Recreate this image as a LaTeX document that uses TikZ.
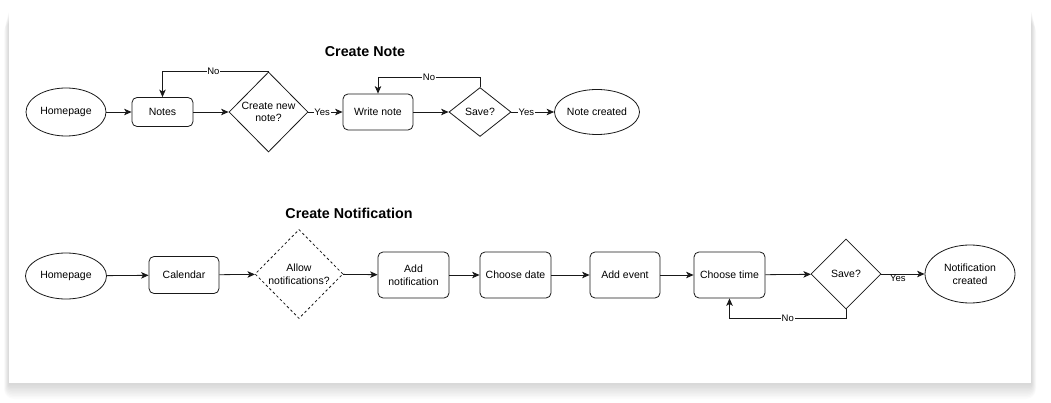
\documentclass[tikz,border=0pt]{standalone}
\usepackage{fontspec}
\setmainfont{Liberation Sans}
\usetikzlibrary{shapes.geometric,arrows.meta}
\begin{document}
\begin{tikzpicture}[x=1pt,y=-1pt,
  every node/.style={font=\fontsize{10.5}{12.5}\selectfont, align=center, inner sep=0pt},
  line/.style={line width=0.8pt, draw=black!90},
  arr/.style={line, -{Stealth[length=7.5pt,width=6.5pt,inset=2pt]}},
  proc/.style={line, rectangle, rounded corners=5pt, minimum width=71pt, minimum height=#1},
  proc/.default=46pt,
  term/.style={line, ellipse, minimum width=80pt, minimum height=#1},
  term/.default=48pt,
  dec/.style={line, diamond, minimum width=#1, minimum height=#1},
  elabel/.style={fill=white, font=\fontsize{9.5}{10.5}\selectfont, inner sep=0.8pt},
  title/.style={font=\fontsize{14.3}{16}\selectfont\bfseries}
]
\useasboundingbox (0,0) rectangle (1051,403);
% card shadow
\foreach \i in {1,...,10}{
  \fill[black, opacity=0.016, rounded corners=\i pt] (9-0.5*\i, 10+1.2*\i) rectangle (1031+0.5*\i, 383+1.6*\i);
}
\fill[white] (9,10) rectangle (1031,383);

% ---------- Create Note ----------
\node[title] (t1) at (365,52) {Create Note};
\node[term] (h1) at (66,112) {Homepage};
\node[proc=29pt, minimum width=61pt] (notes) at (162.5,112) {Notes};
\node[dec=80pt, minimum width=79pt, minimum height=80pt] (d1) at (268.5,112) {Create new\\note?};
\node[proc=36pt, minimum width=70pt] (wn) at (378,112) {Write note};
\node[line, diamond, minimum width=62pt, minimum height=49pt] (s1) at (480,112) {Save?};
\node[term=45pt] (nc) at (597,112) {Note created};

\draw[arr] (h1) -- (notes);
\draw[arr] (notes) -- (d1);
\draw[arr] (d1) -- node[elabel, pos=0.4] {Yes} (wn);
\draw[arr] (wn) -- (s1);
\draw[arr] (s1) -- node[elabel, pos=0.35] {Yes} (nc);
\draw[arr] (d1.north) -| node[elabel, pos=0.26] {No} (notes.north);
\draw[arr] (s1.north) -- ++(0,-10) -| node[elabel, pos=0.25] {No} (wn.north);

% ---------- Create Notification ----------
\node[title] (t2) at (349,213) {Create Notification};
\node[term=46pt, minimum width=81pt] (h2) at (66,276) {Homepage};
\node[proc=37pt, minimum width=70pt] (cal) at (184,275) {Calendar};
\node[line, dashed, dash pattern=on 2.5pt off 2.5pt, diamond, minimum width=88pt, minimum height=89pt] (an) at (299,274) {Allow\\notifications?};
\node[proc] (addn) at (413.5,275) {Add\\notification};
\node[proc] (cd) at (515.5,275) {Choose date};
\node[proc, minimum width=70pt] (ae) at (625,275) {Add event};
\node[proc] (ct) at (729.5,275) {Choose time};
\node[dec=70pt] (s2) at (846,274) {Save?};
\node[term=58pt, minimum width=90pt] (ncr) at (970,274) {Notification\\created};

\draw[arr] (h2) -- (cal);
\draw[arr] (cal) -- (an);
\draw[arr] (an) -- (addn);
\draw[arr] (addn) -- (cd);
\draw[arr] (cd) -- (ae);
\draw[arr] (ae) -- (ct);
\draw[arr] (ct) -- (s2);
\draw[arr] (s2) -- node[elabel, pos=0.38, yshift=-4pt, fill=none] {Yes} (ncr);
\draw[arr] (s2.south) -- ++(0,9) -| node[elabel, pos=0.25] {No} (ct.south);
\end{tikzpicture}
\end{document}
